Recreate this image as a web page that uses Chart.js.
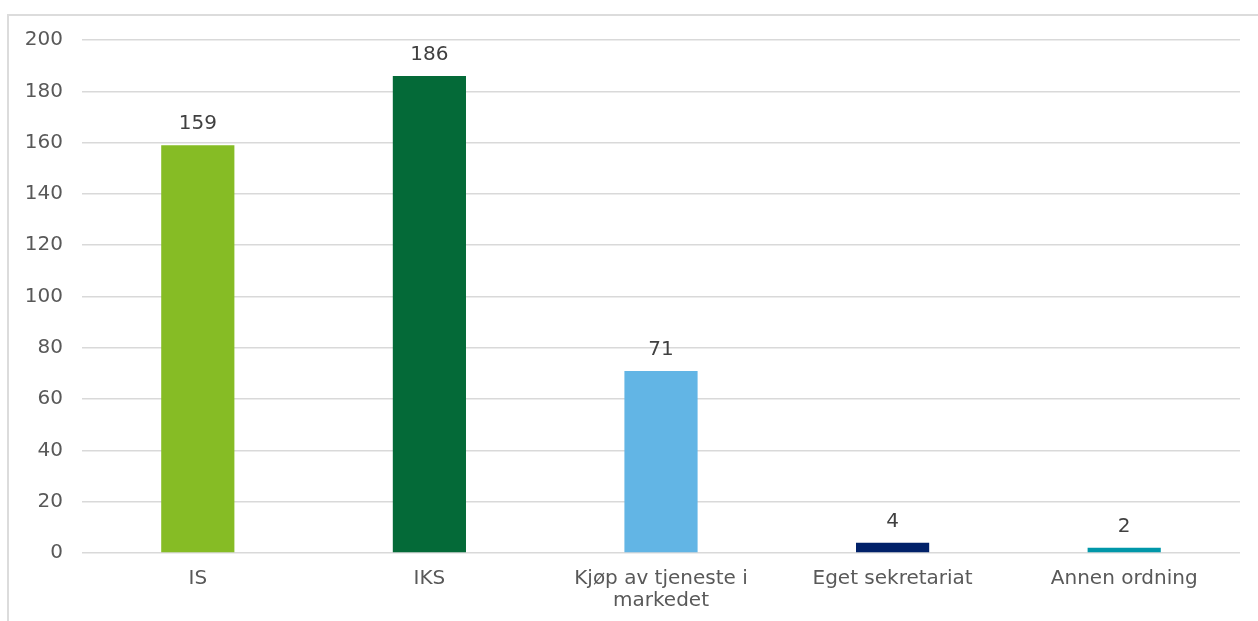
<!DOCTYPE html>
<html lang="no">
<head>
  <meta charset="UTF-8">
  <title>Ordning</title>
  <style>
    html, body { margin: 0; padding: 0; background: #fff; overflow: hidden; }
    #ramme {
      position: absolute; left: 7px; top: 14px; width: 1300px; height: 700px;
      border-top: 2px solid #dcdcdc; border-left: 2px solid #dcdcdc;
    }
    #wrap { position: absolute; left: 0; top: 0; width: 1258px; height: 621px; }
  </style>
</head>
<body>
  <div id="ramme"></div>
  <div id="wrap">
    <canvas id="minCanvas"></canvas>
  </div>

  <script src="https://cdn.jsdelivr.net/npm/chart.js"></script>
  <script>
    const kategorier = ['IS', 'IKS', ['Kjøp av tjeneste i', 'markedet'], 'Eget sekretariat', 'Annen ordning'];
    const antall = [159, 186, 71, 4, 2];
    const farger = ['#86bc25', '#046a38', '#62b5e5', '#012169', '#0097a9'];
    const yTicks = [0, 20, 40, 60, 80, 100, 120, 140, 160, 180, 200];

    const skrift = '"DejaVu Sans", Verdana, sans-serif';

    // verdier over søylene
    const verdiEtiketter = {
      id: 'verdiEtiketter',
      afterDatasetsDraw(chart) {
        const ctx = chart.ctx;
        const meta = chart.getDatasetMeta(0);
        ctx.save();
        ctx.font = '20px ' + skrift;
        ctx.fillStyle = '#404040';
        ctx.textAlign = 'center';
        ctx.textBaseline = 'middle';
        meta.data.forEach((bar, i) => {
          ctx.fillText(String(antall[i]), bar.x, bar.y - 21);
        });
        ctx.restore();
      }
    };

    new Chart(document.getElementById('minCanvas'), {
      type: 'bar',
      data: {
        labels: kategorier,
        datasets: [{
          data: antall,
          backgroundColor: farger,
          categoryPercentage: 1,
          barPercentage: 0.316
        }]
      },
      options: {
        responsive: true,
        maintainAspectRatio: false,
        animation: false,
        layout: { padding: { top: 40, right: 18, left: 0, bottom: 0 } },
        plugins: { legend: { display: false }, tooltip: { enabled: false } },
        scales: {
          y: {
            min: 0,
            max: 200,
            afterBuildTicks(scale) { scale.ticks = yTicks.map(v => ({ value: v })); },
            afterFit(scale) { scale.width = 82; },
            border: { display: false },
            grid: { color: '#d9d9d9', lineWidth: 1.5, drawTicks: false },
            ticks: {
              padding: 19,
              color: '#595959',
              font: { family: skrift, size: 20 }
            }
          },
          x: {
            afterFit(scale) { scale.height = 68; },
            border: { display: false },
            grid: { display: false },
            ticks: {
              padding: 7,
              maxRotation: 0,
              autoSkip: false,
              color: '#595959',
              font: { family: skrift, size: 20, lineHeight: 1.1 }
            }
          }
        }
      },
      plugins: [verdiEtiketter]
    });
  </script>
</body>
</html>
